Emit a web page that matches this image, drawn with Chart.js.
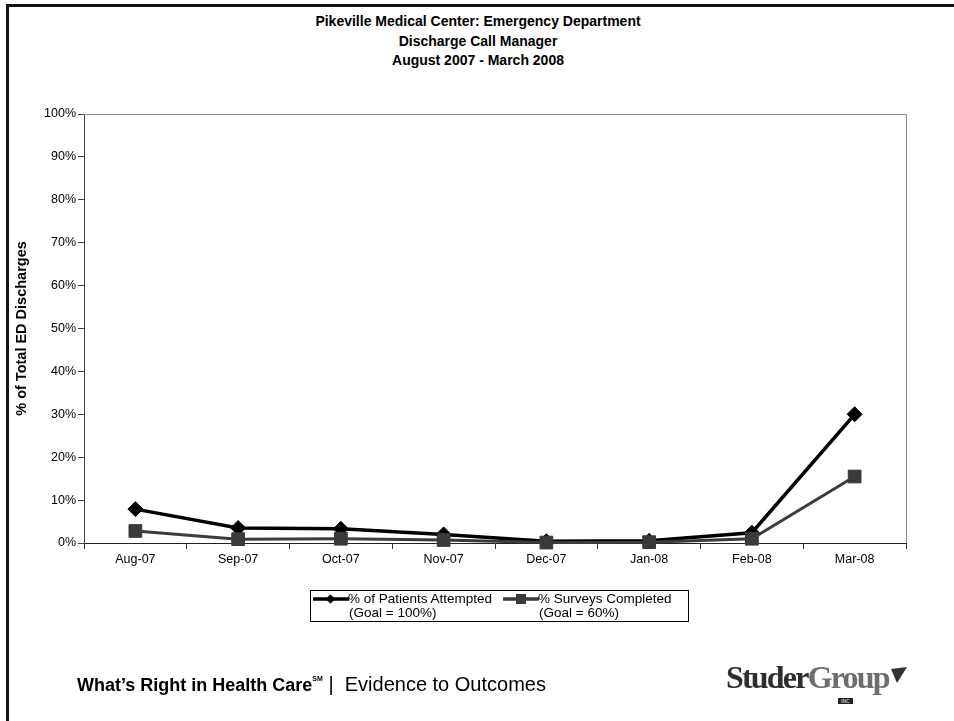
<!DOCTYPE html>
<html><head><meta charset="utf-8">
<script src="https://cdn.jsdelivr.net/npm/chart.js@4.4.0/dist/chart.umd.min.js"></script>
<style>
html,body{margin:0;padding:0;background:#fff;}
body{width:954px;height:721px;position:relative;overflow:hidden;font-family:"Liberation Sans",Arial,sans-serif;color:#000;}
#frame{position:absolute;left:6px;top:4px;width:980px;height:740px;border-top:3px solid #111;border-left:3px solid #111;}
#title{position:absolute;left:0;width:956px;top:12px;text-align:center;font-weight:bold;font-size:14px;line-height:19.5px;}
#c{position:absolute;left:0;top:0;}
#legend{position:absolute;left:310px;top:590px;width:379px;height:32px;border:1px solid #000;box-sizing:border-box;font-size:13.5px;line-height:14px;}
.item{position:absolute;top:1px;}
.item svg{position:absolute;left:0;top:0;}
.item .txt{position:absolute;white-space:nowrap;}
#footer{position:absolute;left:77px;top:673px;font-size:20px;white-space:nowrap;}
#footer b{font-weight:bold;font-size:18px;}
#footer sup{font-size:7px;font-weight:bold;vertical-align:10px;}
#logo{position:absolute;left:726px;top:659px;font-family:"Liberation Serif","DejaVu Serif",serif;font-weight:bold;font-size:32px;letter-spacing:-1.8px;white-space:nowrap;}
#logo .s{color:#2e2e2e;}
#logo .g{color:#6e6e6e;}
#logo .inc{position:absolute;left:112px;top:39px;font-family:"Liberation Sans",sans-serif;font-size:5px;letter-spacing:0;background:#222;color:#bbb;padding:0 3px;line-height:6px;}
#logo svg{position:absolute;left:165px;top:8px;}
</style>
</head><body>
<div id="frame"></div>
<div id="title">Pikeville Medical Center: Emergency Department<br>Discharge Call Manager<br>August 2007 - March 2008</div>
<canvas id="c" width="954" height="721"></canvas>
<div id="legend"></div>
<div id="footer"><b>What’s Right in Health Care</b><sup>SM</sup> | &nbsp;Evidence to Outcomes</div>
<div id="logo"><span class="s">Studer</span><span class="g">Group</span><span class="inc">INC</span><svg width="16" height="16"><polygon points="0,2 16,0 6,16" fill="#333"/></svg></div>
<script>
const categories = ['Aug-07','Sep-07','Oct-07','Nov-07','Dec-07','Jan-08','Feb-08','Mar-08'];
const attempted = [7.9, 3.5, 3.3, 2.0, 0.4, 0.5, 2.4, 30.0];
const completed = [2.8, 0.9, 1.0, 0.7, 0.1, 0.2, 1.0, 15.5];
const yTickValues = [0,10,20,30,40,50,60,70,80,90,100];
const seriesLabels = [['% of Patients Attempted','(Goal = 100%)'], ['% Surveys Completed','(Goal = 60%)']];
const yTitle = '% of Total ED Discharges';

Chart.defaults.font.family = '"Liberation Sans", Arial, sans-serif';
Chart.defaults.color = '#000';

const plotBorder = {
  id: 'plotBorder',
  beforeDatasetsDraw(chart) {
    const a = chart.chartArea, ctx = chart.ctx;
    ctx.save();
    ctx.strokeStyle = '#8a8a8a';
    ctx.lineWidth = 1;
    ctx.beginPath();
    ctx.moveTo(a.left, a.top + 0.5);
    ctx.lineTo(a.right + 0.5, a.top + 0.5);
    ctx.lineTo(a.right + 0.5, a.bottom);
    ctx.stroke();
    ctx.restore();
  }
};

const chart = new Chart(document.getElementById('c'), {
  type: 'line',
  data: {
    labels: categories,
    datasets: [
      { label: seriesLabels[0], data: attempted, borderColor: '#000', backgroundColor: '#000',
        pointBorderColor: '#000', borderWidth: 3.5, pointStyle: 'rectRot', pointRadius: 7.5,
        pointBorderWidth: 1, tension: 0, order: 1 },
      { label: seriesLabels[1], data: completed, borderColor: '#3c3c3c', backgroundColor: '#3a3a3a',
        pointBorderColor: '#3a3a3a', borderWidth: 3, pointStyle: 'rect', pointRadius: 9,
        pointBorderWidth: 1, tension: 0, order: 0 }
    ]
  },
  options: {
    responsive: false,
    animation: false,
    clip: false,
    layout: { padding: { left: 10, right: 48, top: 114, bottom: 148 } },
    plugins: { legend: { display: false }, tooltip: { enabled: false }, title: { display: false } },
    scales: {
      x: {
        type: 'category',
        offset: true,
        grid: { offset: true, drawOnChartArea: false, drawTicks: true, tickLength: 6, color: '#333' },
        border: { color: '#222', width: 1 },
        ticks: { font: { size: 12.5 }, color: '#000', padding: 3, maxRotation: 0, autoSkip: false },
        afterFit(s) { s.height = 30; }
      },
      y: {
        min: 0, max: 100,
        afterBuildTicks(s) { s.ticks = yTickValues.map(v => ({ value: v })); },
        grid: { drawOnChartArea: false, drawTicks: true, tickLength: 6, color: '#444' },
        border: { color: '#444', width: 1 },
        ticks: { font: { size: 12.5 }, color: '#000', padding: 2, callback: v => v + '%' },
        title: { display: true, text: yTitle, font: { size: 14.5, weight: 'bold' }, color: '#000', padding: { top: 3, bottom: 3 } },
        afterFit(s) { s.width = 74; }
      }
    }
  },
  plugins: [plotBorder]
});

// HTML legend built from the datasets
const legend = document.getElementById('legend');
const itemLefts = [2, 192];
chart.data.datasets.forEach((ds, i) => {
  const it = document.createElement('div');
  it.className = 'item';
  it.style.left = itemLefts[i] + 'px';
  const marker = ds.pointStyle === 'rectRot'
    ? '<polygon points="17.5,2.5 22.5,7 17.5,11.5 12.5,7" fill="' + ds.borderColor + '"/>'
    : '<rect x="13" y="2" width="10" height="10" fill="' + ds.backgroundColor + '"/>';
  it.innerHTML = '<svg width="36" height="14"><line x1="1" y1="7" x2="35" y2="7" stroke="' + ds.borderColor +
    '" stroke-width="3.5" stroke-linecap="round"/>' + marker + '</svg>' +
    '<div class="txt" style="left:35px;top:0">' + ds.label[0] + '</div>' +
    '<div class="txt" style="left:36px;top:14px">' + ds.label[1] + '</div>';
  legend.appendChild(it);
});
</script>
</body></html>
